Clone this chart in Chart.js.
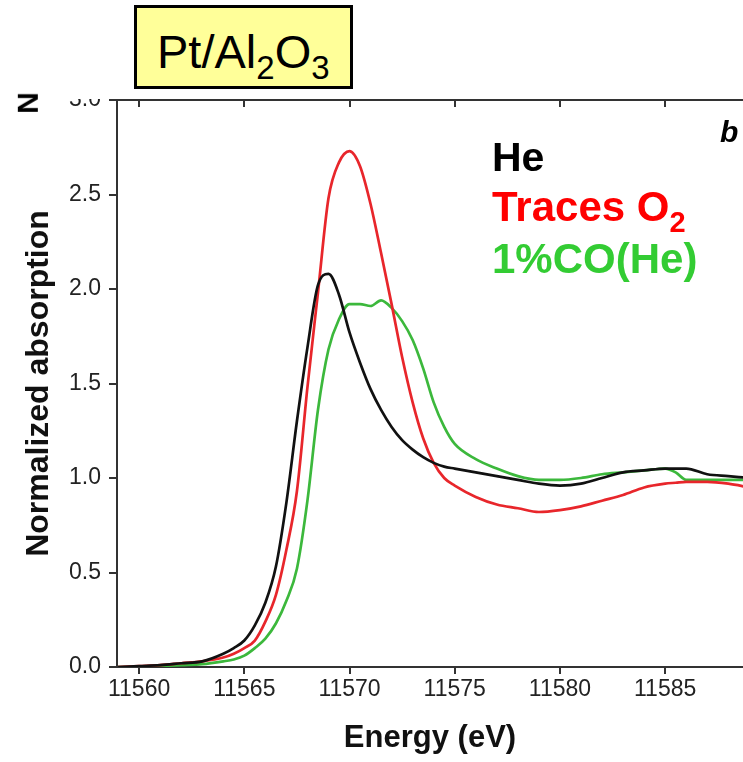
<!DOCTYPE html>
<html>
<head>
<meta charset="utf-8">
<script src="https://cdn.jsdelivr.net/npm/chart.js@4.4.1/dist/chart.umd.min.js"></script>
<style>
  html, body { margin: 0; padding: 0; background: #fff; }
  #wrap { position: relative; width: 743px; height: 762px; overflow: hidden; font-family: "Liberation Sans", Arial, sans-serif; }
  canvas { position: absolute; left: 0; top: 0; }
  .ov { position: absolute; white-space: nowrap; line-height: 1; }
  #titlebox { position: absolute; left: 134px; top: 5px; width: 219px; height: 84px; box-sizing: border-box; border: 3px solid #000; background: #ffff99; }
  sub { line-height: 0; }
</style>
</head>
<body>
<div id="wrap">
  <canvas id="c" width="743" height="762"></canvas>
  <div id="titlebox"></div>
  <div class="ov" style="left:157px; top:28px; font-size:47px; color:#000;">Pt/Al<sub style="font-size:33px; vertical-align:-11px;">2</sub>O<sub style="font-size:33px; vertical-align:-11px;">3</sub></div>
  <div class="ov" style="left:492px; top:137px; font-size:41px; font-weight:bold; color:#000;">He</div>
  <div class="ov" style="left:492px; top:186px; font-size:42px; font-weight:bold; color:#ff0000;">Traces O<sub style="font-size:29px; vertical-align:-11px;">2</sub></div>
  <div class="ov" style="left:492px; top:238px; font-size:42px; font-weight:bold; color:#33cc33;">1%CO(He)</div>
  <div class="ov" style="left:720px; top:117px; font-size:30px; font-weight:bold; font-style:italic; color:#000;">b</div>
  <div class="ov" style="left:17px; top:88px; font-size:30px; font-weight:bold; color:#000; transform:rotate(-90deg);">N</div>
</div>
<script>
// ---- data ----
const energy = [11559, 11560, 11561, 11562, 11563, 11564, 11564.5, 11565, 11565.5, 11566, 11566.5, 11567, 11567.5,
  11568, 11568.5, 11569, 11569.5, 11570, 11570.5, 11571, 11571.5, 11572, 11572.5, 11573, 11573.5, 11574, 11574.5,
  11575, 11576, 11577, 11578, 11579, 11580, 11581, 11582, 11583, 11584, 11585, 11585.5, 11586, 11587, 11588, 11589];
const heAbs = [0.0, 0.005, 0.01, 0.02, 0.03, 0.07, 0.10, 0.14, 0.22, 0.34, 0.53, 0.87, 1.30,
  1.69, 2.02, 2.08, 1.97, 1.77, 1.61, 1.47, 1.36, 1.27, 1.20, 1.15, 1.11, 1.08, 1.06,
  1.05, 1.03, 1.01, 0.99, 0.97, 0.96, 0.97, 1.00, 1.03, 1.04, 1.05, 1.05, 1.05, 1.02, 1.01, 1.00];
const o2Abs = [0.0, 0.005, 0.01, 0.02, 0.03, 0.05, 0.07, 0.10, 0.14, 0.24, 0.38, 0.62, 0.93,
  1.48, 1.98, 2.48, 2.67, 2.73, 2.65, 2.45, 2.19, 1.92, 1.64, 1.40, 1.21, 1.08, 1.00,
  0.96, 0.90, 0.86, 0.84, 0.82, 0.83, 0.85, 0.88, 0.91, 0.95, 0.97, 0.975, 0.98, 0.98, 0.97, 0.95];
const coAbs = [0.0, 0.0, 0.005, 0.01, 0.015, 0.03, 0.04, 0.06, 0.10, 0.15, 0.23, 0.35, 0.52,
  0.88, 1.36, 1.68, 1.84, 1.92, 1.92, 1.91, 1.94, 1.90, 1.83, 1.73, 1.58, 1.40, 1.27,
  1.18, 1.10, 1.05, 1.01, 0.99, 0.99, 1.00, 1.02, 1.03, 1.04, 1.05, 1.03, 0.99, 0.99, 0.99, 0.99];
const xTicks = [11560, 11565, 11570, 11575, 11580, 11585];
const yTicks = [0, 0.5, 1.0, 1.5, 2.0, 2.5, 3.0];
const seriesNames = ['He', 'Traces O2', '1%CO(He)'];
const seriesColors = ['#111111', '#e8262b', '#3cb83c'];

const toPts = arr => energy.map((e, i) => ({ x: e, y: arr[i] }));

const frame = {
  id: 'frame',
  afterDraw(chart) {
    const { ctx, chartArea: a, scales: { x } } = chart;
    ctx.save();
    // mask hiding the upper part of the top tick label (as in the reference crop)
    ctx.fillStyle = '#ffffff';
    ctx.fillRect(40, 0, a.left - 45, a.top - 1);
    ctx.strokeStyle = '#333333';
    ctx.lineWidth = 2;
    ctx.beginPath();
    ctx.moveTo(a.left - 1, a.top);
    ctx.lineTo(a.right, a.top);
    xTicks.forEach(v => {
      const px = Math.round(x.getPixelForValue(v));
      ctx.moveTo(px, a.top);
      ctx.lineTo(px, a.top + 7);
    });
    ctx.stroke();
    ctx.restore();
  }
};

const fontFam = '"Liberation Sans", Arial, sans-serif';

new Chart(document.getElementById('c'), {
  type: 'line',
  data: {
    datasets: [heAbs, o2Abs, coAbs].map((arr, i) => ({
      label: seriesNames[i],
      data: toPts(arr),
      borderColor: seriesColors[i],
      borderWidth: 2.7,
      pointRadius: 0,
      fill: false,
      cubicInterpolationMode: 'monotone'
    }))
  },
  options: {
    responsive: false,
    devicePixelRatio: 1,
    animation: false,
    layout: { padding: { top: 100, right: 0, left: 0, bottom: 0 } },
    plugins: { legend: { display: false }, tooltip: { enabled: false } },
    scales: {
      x: {
        type: 'linear',
        min: 11558.95,
        max: 11588.7,
        afterFit: s => { s.height = 95; },
        afterBuildTicks: s => { s.ticks = xTicks.map(v => ({ value: v })); },
        border: { color: '#333333', width: 2 },
        grid: { drawOnChartArea: false, drawTicks: true, tickLength: 7, color: '#333333', lineWidth: 2 },
        ticks: { color: '#222222', padding: 2, font: { family: fontFam, size: 23 }, callback: v => String(v) },
        title: { display: true, text: 'Energy (eV)', color: '#111111', font: { family: fontFam, size: 31, weight: 'bold' }, padding: { top: 0, bottom: 5 } }
      },
      y: {
        type: 'linear',
        min: 0,
        max: 3,
        afterFit: s => { s.width = 117; },
        afterBuildTicks: s => { s.ticks = yTicks.map(v => ({ value: v })); },
        border: { color: '#333333', width: 2 },
        grid: { drawOnChartArea: false, drawTicks: true, tickLength: 8, color: '#333333', lineWidth: 2 },
        ticks: { color: '#222222', padding: 8, font: { family: fontFam, size: 23 }, callback: v => Number(v).toFixed(1) },
        title: { display: true, text: 'Normalized absorption', color: '#111111', font: { family: fontFam, size: 32, weight: 'bold' }, padding: { top: 20, bottom: 0 } }
      }
    }
  },
  plugins: [frame]
});
</script>
</body>
</html>
